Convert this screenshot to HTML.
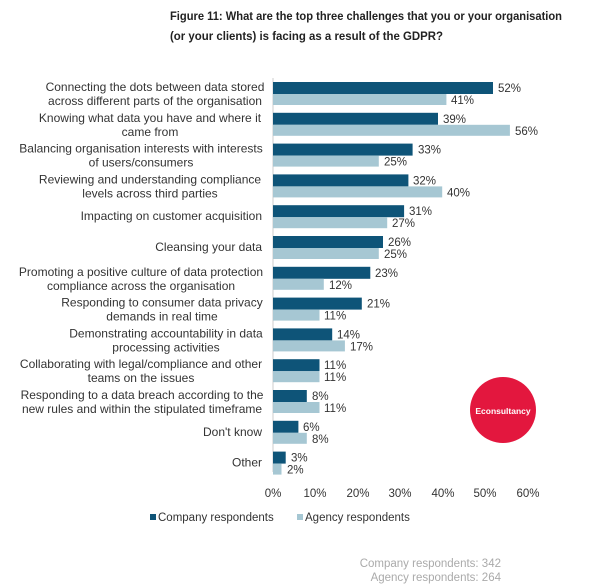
<!DOCTYPE html>
<html><head><style>
body{margin:0;background:#fff;}
svg{display:block;font-family:"Liberation Sans",Arial,sans-serif;}
</style></head><body>
<svg width="600" height="588" viewBox="0 0 600 588">
<text x="170" y="20" font-size="12" font-weight="bold" fill="#222" textLength="392" lengthAdjust="spacingAndGlyphs">Figure 11: What are the top three challenges that you or your organisation</text>
<text x="170" y="40" font-size="12" font-weight="bold" fill="#222" textLength="273" lengthAdjust="spacingAndGlyphs">(or your clients) is facing as a result of the GDPR?</text>
<line x1="273" y1="78" x2="273" y2="472" stroke="#ccc" stroke-width="1"/>

<g fill="#0e5478">
<rect x="273" y="82" width="220" height="12"/>
<rect x="273" y="112.8" width="165" height="12"/>
<rect x="273" y="143.6" width="139.6" height="12"/>
<rect x="273" y="174.4" width="135.4" height="12"/>
<rect x="273" y="205.2" width="131.1" height="12"/>
<rect x="273" y="236" width="110" height="12"/>
<rect x="273" y="266.8" width="97.3" height="12"/>
<rect x="273" y="297.6" width="88.8" height="12"/>
<rect x="273" y="328.4" width="59.2" height="12"/>
<rect x="273" y="359.2" width="46.5" height="12"/>
<rect x="273" y="390" width="33.8" height="12"/>
<rect x="273" y="420.8" width="25.4" height="12"/>
<rect x="273" y="451.6" width="12.7" height="12"/>
</g>
<g fill="#a6c7d3">
<rect x="273" y="94" width="173.4" height="11"/>
<rect x="273" y="124.8" width="236.9" height="11"/>
<rect x="273" y="155.6" width="105.8" height="11"/>
<rect x="273" y="186.4" width="169.2" height="11"/>
<rect x="273" y="217.2" width="114.2" height="11"/>
<rect x="273" y="248" width="105.8" height="11"/>
<rect x="273" y="278.8" width="50.8" height="11"/>
<rect x="273" y="309.6" width="46.5" height="11"/>
<rect x="273" y="340.4" width="71.9" height="11"/>
<rect x="273" y="371.2" width="46.5" height="11"/>
<rect x="273" y="402" width="46.5" height="11"/>
<rect x="273" y="432.8" width="33.8" height="11"/>
<rect x="273" y="463.6" width="8.5" height="11"/>
</g>
<g font-size="11.5" fill="#333">
<text x="498" y="92">52%</text><text x="451" y="104">41%</text>
<text x="443" y="122.8">39%</text><text x="515" y="134.8">56%</text>
<text x="418" y="153.6">33%</text><text x="384" y="165.6">25%</text>
<text x="413" y="184.4">32%</text><text x="447" y="196.4">40%</text>
<text x="409" y="215.2">31%</text><text x="392" y="227.2">27%</text>
<text x="388" y="246">26%</text><text x="384" y="258">25%</text>
<text x="375" y="276.8">23%</text><text x="329" y="288.8">12%</text>
<text x="367" y="307.6">21%</text><text x="324" y="319.6">11%</text>
<text x="337" y="338.4">14%</text><text x="350" y="350.4">17%</text>
<text x="324" y="369.2">11%</text><text x="324" y="381.2">11%</text>
<text x="312" y="400">8%</text><text x="324" y="412">11%</text>
<text x="303" y="430.8">6%</text><text x="312" y="442.8">8%</text>
<text x="291" y="461.6">3%</text><text x="287" y="473.6">2%</text>
</g>
<g font-size="12" fill="#333" text-anchor="middle">
<text x="155" y="91">Connecting the dots between data stored</text>
<text x="155" y="105">across different parts of the organisation</text>
<text x="150" y="121.8">Knowing what data you have and where it</text>
<text x="150" y="135.8">came from</text>
<text x="141" y="152.6">Balancing organisation interests with interests</text>
<text x="141" y="166.6">of users/consumers</text>
<text x="150" y="183.4">Reviewing and understanding compliance</text>
<text x="150" y="197.4">levels across third parties</text>
<text x="141" y="275.8">Promoting a positive culture of data protection</text>
<text x="141" y="289.8">compliance across the organisation</text>
<text x="162" y="306.6">Responding to consumer data privacy</text>
<text x="162" y="320.6">demands in real time</text>
<text x="166" y="337.4">Demonstrating accountability in data</text>
<text x="166" y="351.4">processing activities</text>
<text x="141" y="368.2">Collaborating with legal/compliance and other</text>
<text x="141" y="382.2">teams on the issues</text>
<text x="142" y="399">Responding to a data breach according to the</text>
<text x="142" y="413">new rules and within the stipulated timeframe</text>
</g>
<g font-size="12" fill="#333" text-anchor="end">
<text x="262" y="220.2">Impacting on customer acquisition</text>
<text x="262" y="251">Cleansing your data</text>
<text x="262" y="435.8">Don't know</text>
<text x="262" y="466.6">Other</text>
</g>
<g font-size="11.5" fill="#333" text-anchor="middle">
<text x="273" y="497">0%</text><text x="315" y="497">10%</text><text x="358" y="497">20%</text><text x="400" y="497">30%</text><text x="443" y="497">40%</text><text x="485" y="497">50%</text><text x="528" y="497">60%</text>
</g>
<rect x="150" y="514" width="6" height="6" fill="#0e5478"/>
<text x="158" y="521" font-size="11.5" fill="#333">Company respondents</text>
<rect x="297" y="514" width="6" height="6" fill="#a6c7d3"/>
<text x="305" y="521" font-size="11.5" fill="#333">Agency respondents</text>
<text x="501" y="567" font-size="11.5" fill="#aaa" text-anchor="end">Company respondents: 342</text>
<text x="501" y="581" font-size="11.5" fill="#aaa" text-anchor="end">Agency respondents: 264</text>
<circle cx="503" cy="410" r="33" fill="#e3173e"/>
<text x="503" y="414" font-size="8.5" font-weight="bold" fill="#fff" text-anchor="middle">Econsultancy</text>
</svg>
</body></html>
